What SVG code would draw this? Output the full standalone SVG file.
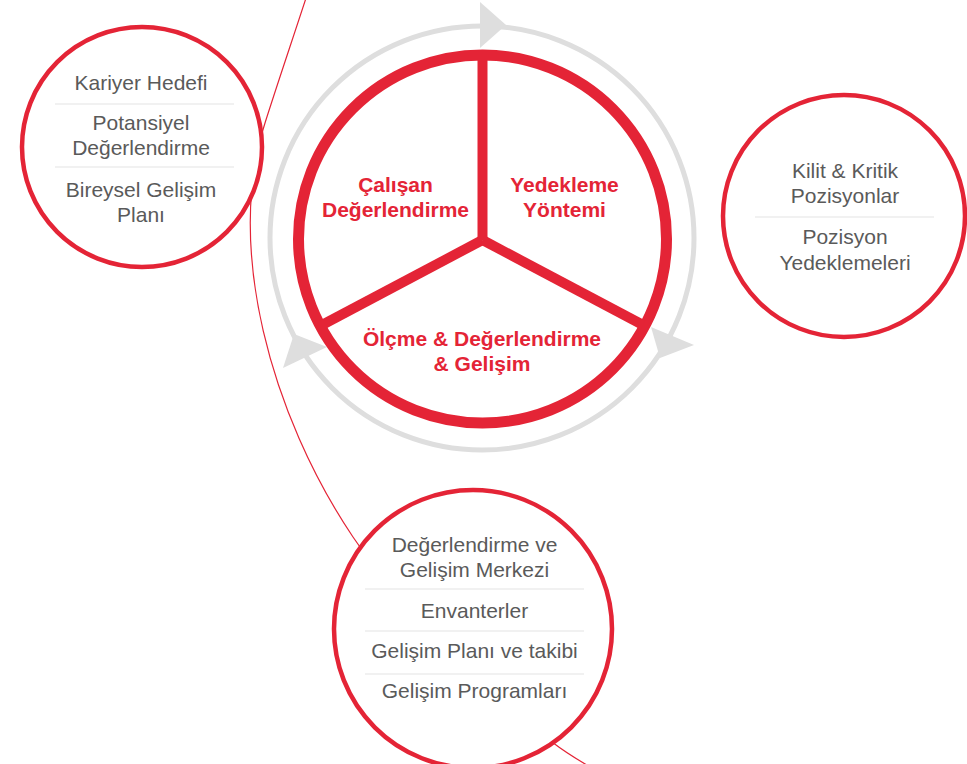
<svg xmlns="http://www.w3.org/2000/svg" width="967" height="764" viewBox="0 0 967 764">
<style>
.bg{fill:#ffffff}
.ring{fill:none;stroke:#dedede;stroke-width:5}
.arrow{fill:#dedede}
.node{fill:#ffffff;stroke:#e42436;stroke-width:4.5}
.main{fill:#ffffff;stroke:#e42436;stroke-width:11}
.spoke{stroke:#e42436;stroke-width:10;fill:none}
.sep{stroke:#e3e3e3;stroke-width:1.2}
.conn{fill:none;stroke:#e42436;stroke-width:1.2}
.t{font-family:"Liberation Sans",Arial,sans-serif;font-size:21px;fill:#5a5a5a;text-anchor:middle}
.r{font-family:"Liberation Sans",Arial,sans-serif;font-size:21px;font-weight:bold;fill:#e42436;text-anchor:middle}
</style>
<rect class="bg" x="0" y="0" width="967" height="764"/>
<g id="connectors">
<path class="conn" d="M308,-8 C293,38 276,88 265,123 C224.8,246.6 271,415 353,537 C400,607 500,700 552,742 C565,752 578,760 592,768"/>
</g>
<g id="cycle">
<circle class="ring" cx="482" cy="238" r="212"/>
<polygon class="arrow" points="480,2 480,48 506,25"/>
<polygon class="arrow" points="651,327 694,345 660,358"/>
<polygon class="arrow" points="294,334 327,347 283,368"/>
</g>
<g id="center">
<circle class="main" cx="482.5" cy="239" r="184"/>
<line class="spoke" x1="482.5" y1="240" x2="482.5" y2="58"/>
<line class="spoke" x1="482.5" y1="240" x2="322" y2="325"/>
<line class="spoke" x1="482.5" y1="240" x2="643" y2="325"/>
<text class="r" x="395.5" y="192">Çalışan</text>
<text class="r" x="395.5" y="217">Değerlendirme</text>
<text class="r" x="564.5" y="192">Yedekleme</text>
<text class="r" x="564.5" y="217">Yöntemi</text>
<text class="r" x="482" y="346">Ölçme &amp; Değerlendirme</text>
<text class="r" x="482" y="371">&amp; Gelişim</text>
</g>
<g id="node-left">
<circle class="node" cx="142" cy="147" r="120"/>
<text class="t" x="141" y="90">Kariyer Hedefi</text>
<line class="sep" x1="55" y1="104" x2="234" y2="104"/>
<text class="t" x="141" y="130">Potansiyel</text>
<text class="t" x="141" y="155">Değerlendirme</text>
<line class="sep" x1="55" y1="167" x2="234" y2="167"/>
<text class="t" x="141" y="197">Bireysel Gelişim</text>
<text class="t" x="141" y="222">Planı</text>
</g>
<g id="node-right">
<circle class="node" cx="844" cy="216" r="121"/>
<text class="t" x="845" y="178">Kilit &amp; Kritik</text>
<text class="t" x="845" y="203">Pozisyonlar</text>
<line class="sep" x1="755" y1="217" x2="934" y2="217"/>
<text class="t" x="845" y="244">Pozisyon</text>
<text class="t" x="845" y="270">Yedeklemeleri</text>
</g>
<g id="node-bottom">
<circle class="node" cx="473" cy="629" r="139"/>
<text class="t" x="474.5" y="552">Değerlendirme ve</text>
<text class="t" x="474.5" y="577">Gelişim Merkezi</text>
<line class="sep" x1="365" y1="589" x2="584" y2="589"/>
<text class="t" x="474.5" y="618">Envanterler</text>
<line class="sep" x1="365" y1="631" x2="584" y2="631"/>
<text class="t" x="474.5" y="658">Gelişim Planı ve takibi</text>
<line class="sep" x1="365" y1="674" x2="584" y2="674"/>
<text class="t" x="474.5" y="698">Gelişim Programları</text>
</g>
</svg>
